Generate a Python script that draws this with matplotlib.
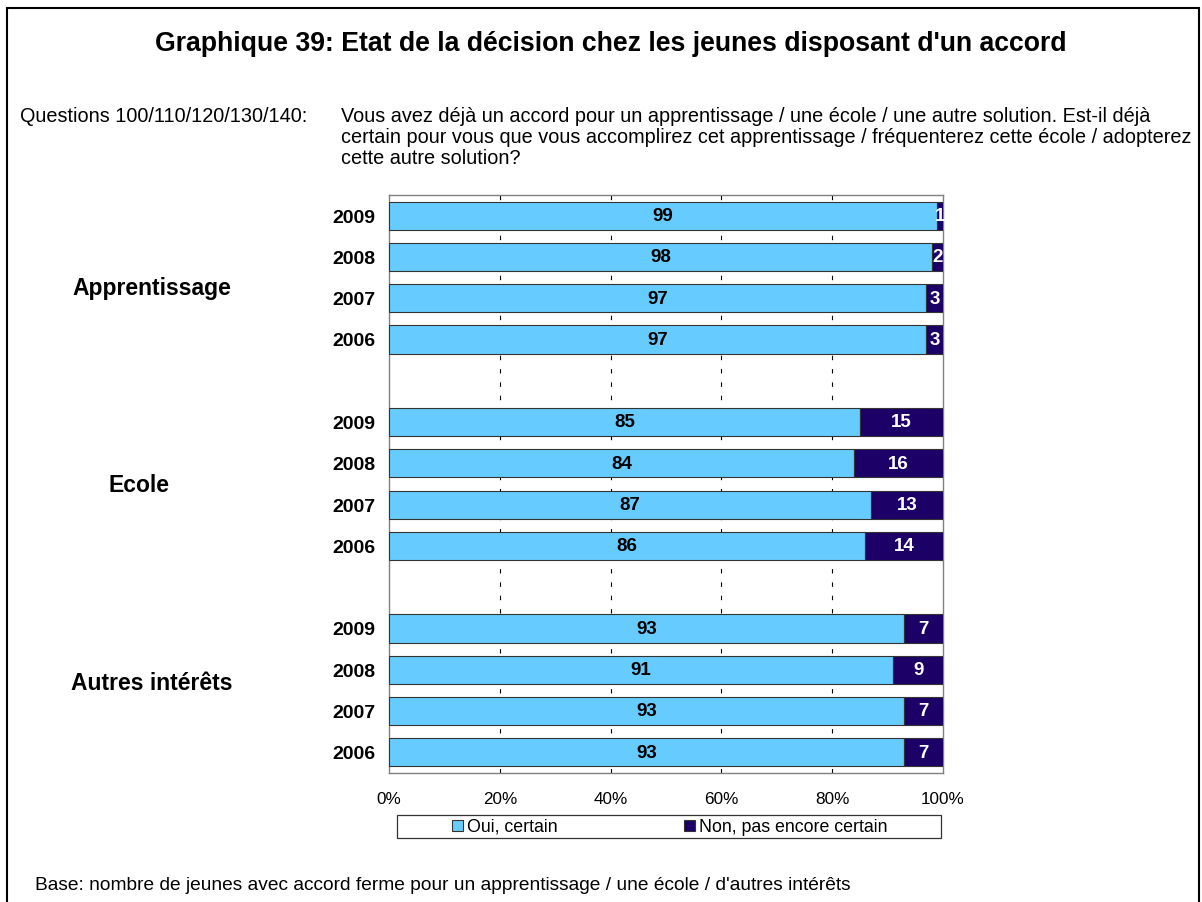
import matplotlib
matplotlib.use("Agg")
import matplotlib.pyplot as plt
from matplotlib.patches import Rectangle, Patch
import numpy as np

plt.rcParams['font.family'] = ['Liberation Sans', 'DejaVu Sans']

groups = ["Apprentissage", "Ecole", "Autres intérêts"]
years = ["2009", "2008", "2007", "2006"]
oui = [[99, 98, 97, 97], [85, 84, 87, 86], [93, 91, 93, 93]]
non = [[1, 2, 3, 3], [15, 16, 13, 14], [7, 9, 7, 7]]
series_names = ["Oui, certain", "Non, pas encore certain"]
xticklabels = ["0%", "20%", "40%", "60%", "80%", "100%"]

c_oui = "#66CCFF"
c_non = "#1C0068"

fig = plt.figure(figsize=(12.02, 9.02), dpi=100)
W, H = 1202, 902
ax = fig.add_axes([389 / W, 1 - 773 / H, (943 - 389) / W, (773 - 195) / H])

# slot positions: 14 slots from top, gaps between groups
ypos = []
slot = 0
for g in range(len(groups)):
    ys = []
    for k in range(len(years)):
        ys.append(slot)
        slot += 1
    ypos.append(ys)
    slot += 1  # gap
nslots = 14
bh = 0.68
for g in range(len(groups)):
    for k in range(len(years)):
        y = ypos[g][k]
        ax.barh(y, oui[g][k], height=bh, color=c_oui, edgecolor="#333333", linewidth=0.8, zorder=3)
        ax.barh(y, non[g][k], left=oui[g][k], height=bh, color=c_non, edgecolor="#333333", linewidth=0.8, zorder=3)
        ax.text(oui[g][k] / 2, y + 0.02, str(oui[g][k]), ha="center", va="center", fontsize=13.5,
                fontweight="bold", color="black", zorder=4)
        ax.text(oui[g][k] + non[g][k] / 2, y + 0.02, str(non[g][k]), ha="center", va="center", fontsize=13.5,
                fontweight="bold", color="white", zorder=4, clip_on=False)

ax.set_xlim(0, 100)
ax.set_ylim(nslots - 0.5, -0.5)
ax.set_xticks([0, 20, 40, 60, 80, 100])
ax.set_xticklabels(xticklabels, fontsize=12.3)
ax.tick_params(axis="x", length=0, pad=14)
ax.set_yticks([])
for x in [20, 40, 60, 80]:
    ax.axvline(x, color="black", linestyle=(0, (4, 8)), linewidth=0.8, zorder=1)
for s in ax.spines.values():
    s.set_color("#808080")
    s.set_linewidth(1.0)

# year labels
for g in range(len(groups)):
    for k in range(len(years)):
        ax.text(-2.5, ypos[g][k] + 0.06, years[k], ha="right", va="center", fontsize=14,
                fontweight="bold", clip_on=False)

# group labels (figure pixel positions)
group_xy = [(152, 288), (139, 485), (152, 684)]
for g in range(len(groups)):
    fig.text(group_xy[g][0] / W, 1 - group_xy[g][1] / H, groups[g], ha="center", va="center",
             fontsize=16.5, fontweight="bold")

# title & texts
fig.text(611 / W, 1 - 44 / H, "Graphique 39: Etat de la décision chez les jeunes disposant d'un accord",
         ha="center", va="center", fontsize=19.2, fontweight="bold")
fig.text(20 / W, 1 - 117 / H, "Questions 100/110/120/130/140:", ha="left", va="center", fontsize=14.3)
qlines = ["Vous avez déjà un accord pour un apprentissage / une école / une autre solution. Est-il déjà",
          "certain pour vous que vous accomplirez cet apprentissage / fréquenterez cette école / adopterez",
          "cette autre solution?"]
for i, l in enumerate(qlines):
    fig.text(341 / W, 1 - (117 + 20.5 * i) / H, l, ha="left", va="center", fontsize=14.3)
fig.text(35 / W, 1 - 886 / H,
         "Base: nombre de jeunes avec accord ferme pour un apprentissage / une école / d'autres intérêts",
         ha="left", va="center", fontsize=13.8)

# legend
handles = [Patch(facecolor=c_oui, edgecolor="#333333", linewidth=0.8),
           Patch(facecolor=c_non, edgecolor="#333333", linewidth=0.8)]
leg = fig.legend(handles, series_names, loc="center", bbox_to_anchor=(670 / W, 1 - 827 / H),
                 ncol=2, fontsize=12.8, frameon=False, handlelength=0.6,
                 handleheight=0.6, handletextpad=0.25, columnspacing=7.1, borderpad=0.0)
fig.patches.append(Rectangle((397 / W, 1 - 838 / H), (941 - 397) / W, 23 / H, transform=fig.transFigure,
                             fill=False, edgecolor="#333333", linewidth=0.9))

# outer frame
fig.patches.append(Rectangle((7 / W, -0.01), (1199 - 7) / W, 1 - 8 / H + 0.01, transform=fig.transFigure,
                             fill=False, edgecolor="black", linewidth=1.5))

fig.savefig("out.png", dpi=100)
